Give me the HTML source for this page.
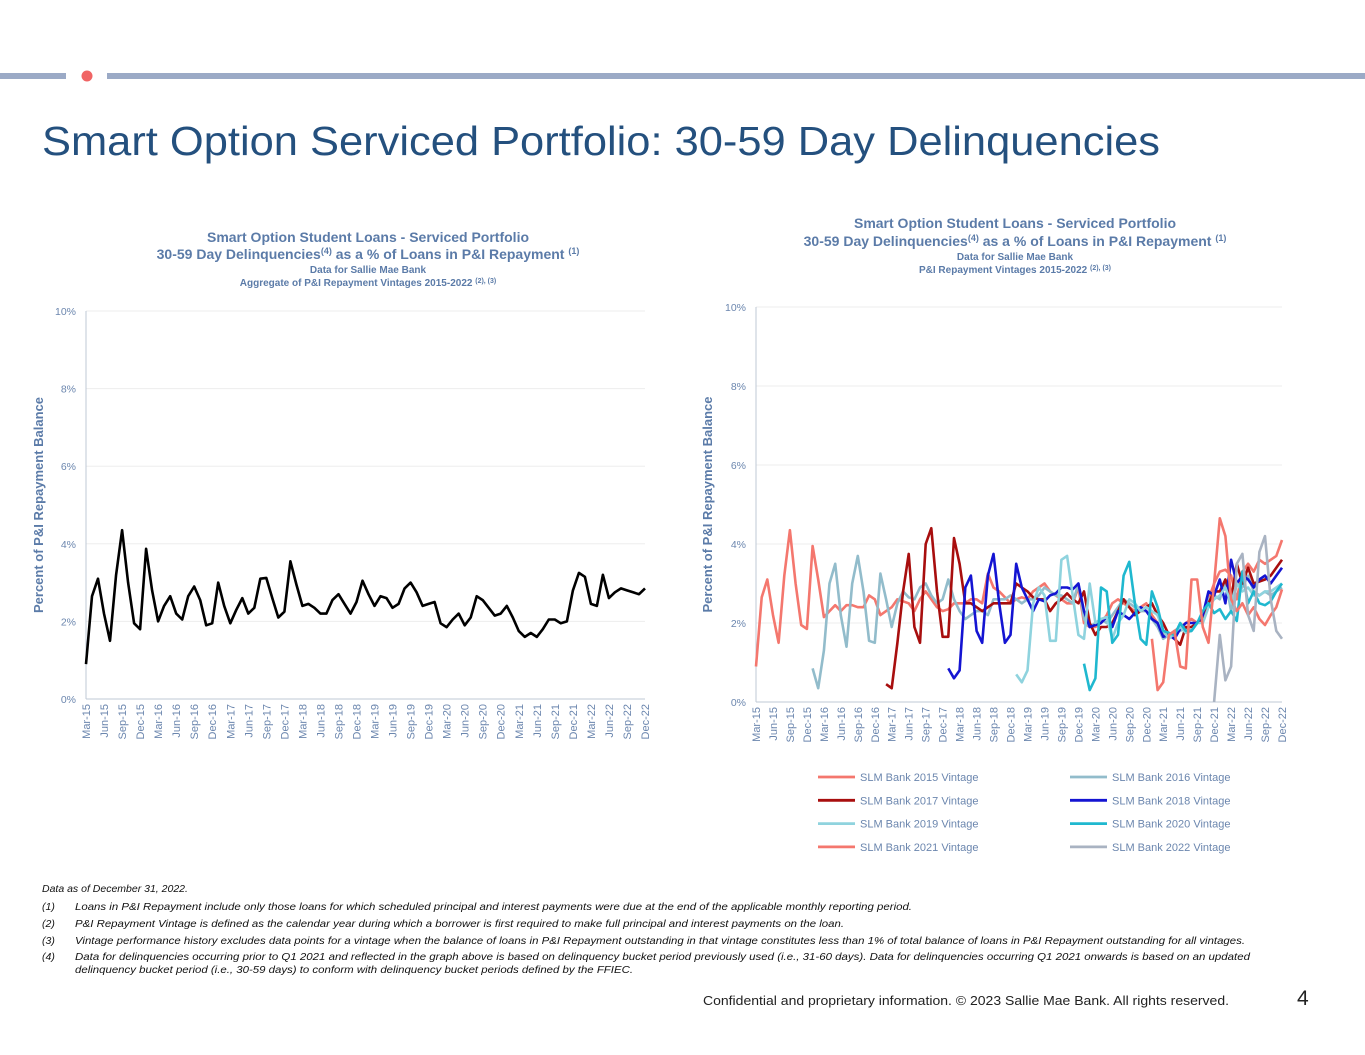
<!DOCTYPE html>
<html><head><meta charset="utf-8"><style>
html,body{margin:0;padding:0;background:#fff;}
svg{display:block;font-family:"Liberation Sans",Arial,sans-serif;}
</style></head><body>
<svg id="page" width="1365" height="1055" viewBox="0 0 1365 1055">
<g>
<rect x="0" y="73" width="66" height="6" fill="#9BAAC6"/>
<circle cx="87" cy="76" r="5.5" fill="#F06464"/>
<rect x="107" y="73" width="1258" height="6" fill="#9BAAC6"/>
</g>
<text x="42" y="155" font-size="41" fill="#24507E" textLength="1118" lengthAdjust="spacingAndGlyphs">Smart Option Serviced Portfolio: 30-59 Day Delinquencies</text>

<g fill="#5B7BA8" font-weight="bold" text-anchor="middle">
<text x="368" y="242" font-size="14">Smart Option Student Loans - Serviced Portfolio</text>
<text x="368" y="259" font-size="14">30-59 Day Delinquencies<tspan font-size="9" dy="-5">(4)</tspan><tspan dy="5"> as a % of Loans in P&amp;I Repayment </tspan><tspan font-size="9" dy="-5">(1)</tspan></text>
<text x="368" y="273" font-size="10">Data for Sallie Mae Bank</text>
<text x="368" y="286" font-size="10">Aggregate of P&amp;I Repayment Vintages 2015-2022 <tspan font-size="7" dy="-3">(2), (3)</tspan></text>
</g>
<g fill="#5B7BA8" font-weight="bold" text-anchor="middle">
<text x="1015" y="228" font-size="14">Smart Option Student Loans - Serviced Portfolio</text>
<text x="1015" y="246" font-size="14">30-59  Day Delinquencies<tspan font-size="9" dy="-5">(4)</tspan><tspan dy="5"> as a % of Loans in P&amp;I Repayment </tspan><tspan font-size="9" dy="-5">(1)</tspan></text>
<text x="1015" y="260" font-size="10">Data for Sallie Mae Bank</text>
<text x="1015" y="273" font-size="10">P&amp;I Repayment Vintages 2015-2022 <tspan font-size="7" dy="-3">(2), (3)</tspan></text>
</g>

<g id="leftChart"></g>
<g id="rightChart"></g>
<g id="legend"></g>

<g font-size="10.5" font-style="italic" fill="#111">
<text x="42" y="892">Data as of December 31, 2022.</text>
<text x="42" y="910">(1)</text><text x="75" y="910" textLength="837" lengthAdjust="spacingAndGlyphs">Loans in P&amp;I Repayment include only those loans for which scheduled principal and interest payments were due at the end of the applicable monthly reporting period.</text>
<text x="42" y="927">(2)</text><text x="75" y="927" textLength="769" lengthAdjust="spacingAndGlyphs">P&amp;I Repayment Vintage is defined as the calendar year during which a borrower is first required to make full principal and interest payments on the loan.</text>
<text x="42" y="944">(3)</text><text x="75" y="944" textLength="1170" lengthAdjust="spacingAndGlyphs">Vintage performance history excludes data points for a vintage when the balance of loans in P&amp;I Repayment outstanding in that vintage constitutes less than 1% of total balance of loans in P&amp;I Repayment outstanding for all vintages.</text>
<text x="42" y="960">(4)</text><text x="75" y="960" textLength="1175" lengthAdjust="spacingAndGlyphs">Data for delinquencies occurring prior to Q1 2021 and reflected in the graph above is based on delinquency bucket period previously used (i.e., 31-60 days).  Data for delinquencies occurring Q1 2021 onwards is based on an updated</text>
<text x="75" y="973" textLength="558" lengthAdjust="spacingAndGlyphs">delinquency bucket period (i.e., 30-59 days) to conform with delinquency bucket periods defined by the FFIEC.</text>
</g>
<text x="703" y="1005" font-size="13" fill="#222" textLength="526" lengthAdjust="spacingAndGlyphs">Confidential and proprietary information. © 2023 Sallie Mae Bank. All rights reserved.</text>
<text x="1297" y="1005" font-size="21" fill="#222">4</text>
</svg>
<script>
const NS="http://www.w3.org/2000/svg";
const monthNames=["Jan","Feb","Mar","Apr","May","Jun","Jul","Aug","Sep","Oct","Nov","Dec"];
const categories=[];
for(let y=15;y<=22;y++){for(let m=0;m<12;m++){if(y===15&&m<2)continue;categories.push(monthNames[m]+"-"+y);}}
const yTicks=[0,2,4,6,8,10];
const yTickLabels=["0%","2%","4%","6%","8%","10%"];
const aggregateValues=[0.9,2.65,3.1,2.2,1.5,3.2,4.35,3.0,1.95,1.8,3.87,2.8,2.0,2.4,2.65,2.2,2.05,2.65,2.9,2.55,1.9,1.95,3.0,2.4,1.95,2.3,2.6,2.2,2.35,3.1,3.12,2.6,2.1,2.25,3.55,2.95,2.4,2.45,2.35,2.2,2.2,2.55,2.7,2.45,2.2,2.5,3.05,2.7,2.4,2.65,2.6,2.35,2.45,2.85,3.0,2.75,2.4,2.45,2.5,1.95,1.85,2.05,2.2,1.9,2.1,2.65,2.55,2.35,2.15,2.2,2.4,2.1,1.75,1.6,1.7,1.6,1.8,2.05,2.05,1.95,2.0,2.8,3.25,3.15,2.45,2.4,3.2,2.6,2.75,2.85,2.8,2.75,2.7,2.85];
const vintageNames=["SLM Bank 2015 Vintage","SLM Bank 2016 Vintage","SLM Bank 2017 Vintage","SLM Bank 2018 Vintage","SLM Bank 2019 Vintage","SLM Bank 2020 Vintage","SLM Bank 2021 Vintage","SLM Bank 2022 Vintage"];
const vintageStarts=["Mar-15","Jan-16","Feb-17","Jan-18","Jan-19","Jan-20","Jan-21","Dec-21"];
const v2015=[0.9,2.65,3.1,2.2,1.5,3.2,4.35,3.0,1.95,1.85,3.95,3.1,2.15,2.3,2.45,2.3,2.45,2.45,2.4,2.4,2.7,2.6,2.2,2.3,2.4,2.6,2.55,2.5,2.3,2.6,2.8,2.6,2.4,2.3,2.35,2.5,2.5,2.5,2.6,2.6,2.5,3.25,2.9,2.8,2.65,2.5,2.6,2.65,2.6,2.8,2.9,3.0,2.8,2.7,2.6,2.5,2.5,2.9,2.0,1.9,1.9,2.0,2.2,2.5,2.6,2.5,2.4,2.3,2.4,2.5,2.2,2.0,1.7,1.7,1.8,1.9,2.0,2.1,2.0,2.2,2.6,3.0,3.3,3.35,3.2,2.6,3.3,3.5,3.3,3.6,3.5,3.6,3.7,4.1];
const v2016=[0.85,0.35,1.3,3.0,3.5,2.2,1.4,3.0,3.7,2.8,1.55,1.5,3.25,2.6,1.9,2.5,2.8,2.65,2.6,2.9,3.0,2.7,2.5,2.6,3.1,2.6,2.3,2.1,2.2,2.3,2.3,2.2,2.6,2.6,2.6,2.7,2.6,2.5,2.6,2.6,2.7,2.9,2.8,2.7,2.7,2.6,2.5,3.0,2.1,1.9,2.0,2.1,2.0,2.2,2.4,2.6,2.5,2.4,2.3,2.3,2.1,1.9,1.6,1.7,1.8,1.8,1.9,1.8,2.0,2.2,2.6,2.7,2.6,3.1,2.3,3.0,2.9,3.2,2.8,2.7,2.8,2.7,2.8,2.9];
const v2017=[0.45,0.35,1.5,2.8,3.75,1.9,1.5,4.0,4.4,2.8,1.65,1.65,4.15,3.5,2.5,2.5,2.4,2.3,2.4,2.5,2.5,2.5,2.5,3.0,2.9,2.8,2.65,2.6,2.6,2.3,2.5,2.6,2.75,2.6,2.5,2.8,2.0,1.7,1.9,1.9,2.0,2.3,2.6,2.4,2.2,2.3,2.4,2.5,2.2,2.0,1.7,1.6,1.45,1.9,1.9,2.0,2.1,2.5,2.8,2.8,3.1,2.6,3.5,3.0,3.4,3.0,3.05,3.1,3.2,3.4,3.6];
const v2018=[0.85,0.6,0.8,2.9,3.2,1.8,1.5,3.2,3.75,2.5,1.5,1.7,3.5,2.9,2.6,2.3,2.6,2.55,2.7,2.75,2.9,2.9,2.85,3.0,2.3,1.9,1.95,2.0,2.15,1.9,2.3,2.2,2.1,2.25,2.4,2.3,2.1,2.0,1.65,1.7,1.6,1.85,2.0,2.0,2.0,2.2,2.8,2.7,3.1,2.5,3.6,3.0,3.2,3.1,2.9,3.1,3.2,3.0,3.2,3.4];
const v2019=[0.7,0.5,0.8,2.5,2.9,2.7,1.55,1.55,3.6,3.7,2.7,1.7,1.6,3.0,2.0,2.1,2.15,1.6,2.0,2.2,2.6,2.5,2.3,2.4,2.3,2.2,1.8,1.6,1.75,1.9,1.75,1.8,2.0,2.0,2.4,2.6,2.7,2.9,2.5,3.0,2.8,2.9,2.7,2.7,2.8,2.8,2.9,3.0];
const v2020=[0.97,0.3,0.6,2.9,2.8,1.5,1.7,3.2,3.55,2.5,1.6,1.45,2.8,2.4,1.8,1.75,1.7,2.0,1.8,1.8,2.0,2.3,2.5,2.25,2.35,2.1,2.3,2.05,3.3,2.5,2.8,2.5,2.45,2.55,2.8,3.0];
const v2021=[1.6,0.3,0.5,1.7,1.8,0.9,0.85,3.1,3.1,1.9,1.5,3.0,4.65,4.2,2.6,2.3,2.5,2.2,2.4,2.1,1.95,2.2,2.4,2.85];
const v2022=[0,1.7,0.55,0.9,3.5,3.75,2.2,1.8,3.8,4.2,2.6,1.8,1.6];
const vintageSeries=[v2015,v2016,v2017,v2018,v2019,v2020,v2021,v2022];
const vintageColors=["#F4776E","#92BCCB","#A80E0E","#1414D2","#8FD3DE","#1FB8CF","#F4776E","#A9B3C2"];

function el(tag,attrs,parent){const e=document.createElementNS(NS,tag);for(const k in attrs)e.setAttribute(k,attrs[k]);parent.appendChild(e);return e;}

function drawAxes(g,L,R,T,B,yTitleX){
  const yScale=v=>B-(v/10)*(B-T);
  const xScale=i=>L+i*(R-L)/(categories.length-1);
  yTicks.forEach((t,i)=>{
    const y=yScale(t);
    if(t>0){const gl=el("line",{x1:L,x2:R,y1:y,y2:y,stroke:"#EDEDED","stroke-width":1},g);
      
      }
    const tx=el("text",{x:L-10,y:y+4,"font-size":10.5,fill:"#6B86AE","text-anchor":"end"},g);
    
    
    tx.textContent=yTickLabels[i];
  });
  const ax=el("line",{x1:L,x2:L,y1:T,y2:B,stroke:"#BFC8D6","stroke-width":1},g);
  
  
  const bx=el("line",{x1:L,x2:R,y1:B,y2:B,stroke:"#BFC8D6","stroke-width":1},g);
  
  
  categories.forEach((c,i)=>{
    if(i%3!==0)return;
    const x=xScale(i);
    const tx=el("text",{x:0,y:0,"font-size":11,fill:"#6B86AE","text-anchor":"end",transform:`translate(${x+4},${B+5}) rotate(-90)`},g);
    
    
    tx.textContent=c;
  });
  const yt=el("text",{x:0,y:0,"font-size":13,"font-weight":"bold",fill:"#5B7BA8","text-anchor":"middle",transform:`translate(${yTitleX},${(T+B)/2}) rotate(-90)`},g);
  
  
  yt.textContent="Percent of P&I Repayment  Balance";
  return {xScale,yScale};
}

(function(){
  const g=document.getElementById("leftChart");
  const {xScale,yScale}=drawAxes(g,86,645,311,699,43);
  const d=aggregateValues.map((v,i)=>(i?"L":"M")+xScale(i).toFixed(1)+","+yScale(v).toFixed(1)).join(" ");
  const p=el("path",{d,fill:"none",stroke:"#000","stroke-width":2.6,"stroke-linejoin":"round"},g);
  
  
})();

(function(){
  const g=document.getElementById("rightChart");
  const {xScale,yScale}=drawAxes(g,756,1282,307,702,712);
  vintageSeries.forEach((vals,s)=>{
    const start=categories.indexOf(vintageStarts[s]);
    const d=vals.map((v,i)=>(i?"L":"M")+xScale(start+i).toFixed(1)+","+yScale(v).toFixed(1)).join(" ");
    const p=el("path",{d,fill:"none",stroke:vintageColors[s],"stroke-width":2.6,"stroke-linejoin":"round"},g);
    
    
  });
  const lg=document.getElementById("legend");
  vintageNames.forEach((n,s)=>{
    const col=s%2,row=Math.floor(s/2);
    const x=col?1070:818,y=777+row*23.3;
    const e=el("g",{},lg);
    
    
    el("line",{x1:x,x2:x+37,y1:y,y2:y,stroke:vintageColors[s],"stroke-width":2.8},e);
    const t=el("text",{x:x+42,y:y+4,"font-size":11,fill:"#6B86AE"},e);
    t.textContent=n;
  });
})();
</script>
</body></html>
